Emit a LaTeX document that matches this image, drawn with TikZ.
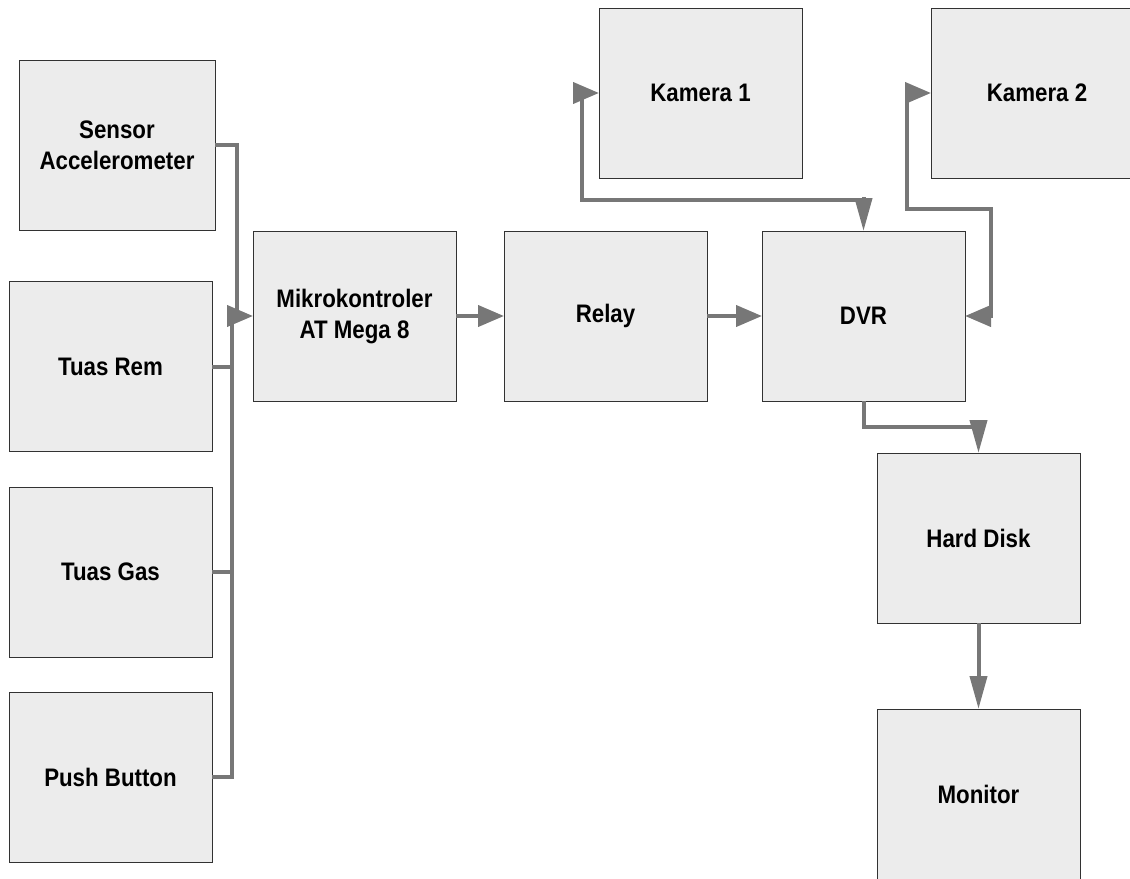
\documentclass[tikz,border=0pt]{standalone}
\usepackage{fontspec}
\newfontfamily\boxfont{Liberation Sans}[FakeStretch=0.88]
\usetikzlibrary{arrows.meta}
\definecolor{boxfill}{RGB}{236,236,236}
\definecolor{boxline}{RGB}{50,50,50}
\definecolor{conncol}{RGB}{119,119,119}
\tikzset{
  block/.style={draw=boxline, line width=0.75pt, fill=boxfill,
    minimum width=152.25pt, minimum height=127.5pt, inner sep=0pt, outer sep=0pt,
    align=center, font=\boxfont\bfseries\fontsize{19pt}{23.25pt}\selectfont},
  conn/.style={draw=conncol, line width=3pt},
  harrow/.style={conn, -{Triangle[length=19.5pt,width=15.75pt]}},
  varrow/.style={conn, -{Triangle[length=24.75pt,width=12.75pt]}},
}
\begin{document}
\begin{tikzpicture}[x=0.75pt,y=-0.75pt]
\useasboundingbox (0,0) rectangle (1130,878);
% blocks
\node[block, minimum width=147pt] (sens) at (117,145) {Sensor\\Accelerometer};
\node[block] (rem) at (110.5,366.5) {Tuas Rem};
\node[block] (gas) at (110.5,572) {Tuas Gas};
\node[block] (push) at (110.5,777) {Push Button};
\node[block] (mikro) at (354.5,316) {Mikrokontroler\\AT Mega 8};
\node[block] (relay) at (605.5,316) {Relay};
\node[block] (dvr) at (863.5,316) {DVR};
\node[block] (kam1) at (700.5,93) {Kamera 1};
\node[block, minimum width=159pt] (kam2) at (1037,93) {Kamera 2};
\node[block] (hdd) at (978.5,538) {Hard Disk};
\node[block] (mon) at (978.5,794) {Monitor};
% inputs to microcontroller
\coordinate (jS) at (237,316);
\coordinate (jA) at (227,316);
\coordinate (jL) at (232,320);
\draw[conn] (sens.east) -| (jS);
\draw[conn] (push.east) -| (jL);
\draw[conn] (rem.east) -- (rem.east -| jL);
\draw[conn] (gas.east) -- (gas.east -| jL);
\draw[harrow] (jA) -- (mikro.west);
% chain
\draw[harrow] (mikro.east) -- (relay.west);
\draw[harrow] (relay.east) -- (dvr.west);
% Kamera 1 <-> DVR
\coordinate (k1a) at (573,93);
\coordinate (k1v) at (582,96);
\coordinate (k1c) at (863.5,200);
\coordinate (k1d) at (863.5,197);
\draw[conn] (k1v) |- (k1c);
\draw[harrow] (k1a) -- (kam1.west);
\draw[varrow] (k1d) -- (dvr.north);
% Kamera 2 <-> DVR
\coordinate (k2a) at (905,93);
\coordinate (k2v) at (907,96);
\coordinate (k2m) at (991,209);
\coordinate (k2c) at (991,318);
\coordinate (k2b) at (991,316);
\draw[conn] (k2v) |- (k2m) -- (k2c);
\draw[harrow] (k2a) -- (kam2.west);
\draw[harrow] (k2b) -- (dvr.east);
% DVR -> Hard Disk -> Monitor
\coordinate (hc) at (978.5,427);
\coordinate (ha) at (978.5,420);
\draw[conn] (dvr.south) |- (hc);
\draw[varrow] (ha) -- (hdd.north);
\draw[varrow] (hdd.south) -- (mon.north);
\end{tikzpicture}
\end{document}
